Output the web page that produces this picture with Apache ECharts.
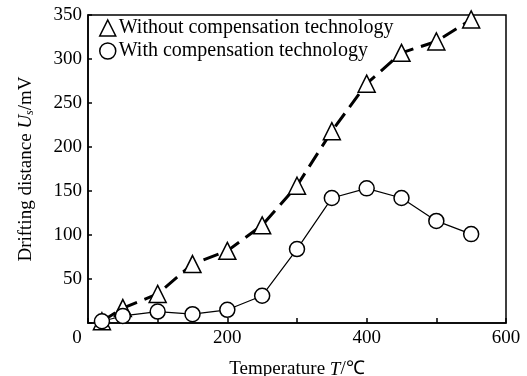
<!DOCTYPE html>
<html><head><meta charset="utf-8">
<script src="https://cdn.jsdelivr.net/npm/echarts@6/dist/echarts.min.js"></script>
<style>html,body{margin:0;padding:0;background:#fff}#c{width:527px;height:376px}</style>
</head><body><div id="c"></div>
<script>
var temperatures = [20, 50, 100, 150, 200, 250, 300, 350, 400, 450, 500, 550];
var withoutComp = [2, 17, 33, 67, 82, 111, 156, 218, 272, 307, 320, 345];
var withComp = [2, 8, 13, 10, 15, 31, 84, 142, 153, 142, 116, 101];
var xTickLabels = [0, 200, 400, 600];
var yTickLabels = [50, 100, 150, 200, 250, 300, 350];
var seriesNames = ['Without compensation technology', 'With compensation technology'];

function pairs(xs, ys) { return xs.map(function (x, i) { return [x, ys[i]]; }); }
var FONT = 'Liberation Serif';
var chart = echarts.init(document.getElementById('c'));
chart.setOption({
  backgroundColor: '#fff',
  animation: false,
  textStyle: { fontFamily: FONT, color: '#000' },
  grid: { left: 88, right: 21, top: 15, bottom: 53, containLabel: false, outerBoundsMode: 'none', show: true, borderColor: '#000', borderWidth: 1.5, backgroundColor: 'transparent' },
  legend: {
    left: 94, top: 13, orient: 'vertical', itemGap: 3, itemWidth: 16, itemHeight: 16,
    textStyle: { fontFamily: FONT, fontSize: 20, color: '#000', padding: [0, 0, 0, -2] },
    data: [
      { name: seriesNames[0], icon: 'triangle', itemStyle: { color: '#fff', borderColor: '#000', borderWidth: 1.5 } },
      { name: seriesNames[1], icon: 'circle', itemStyle: { color: '#fff', borderColor: '#000', borderWidth: 1.5 } }
    ]
  },
  xAxis: {
    type: 'value', min: 0, max: 600, interval: 100,
    name: 'Temperature {i|T}/℃', nameLocation: 'middle', nameGap: 37,
    nameTextStyle: { fontFamily: FONT, fontSize: 19, color: '#000', rich: { i: { fontStyle: 'italic', fontFamily: FONT, fontSize: 19 } } },
    axisLine: { lineStyle: { color: '#000', width: 1.5 } },
    axisTick: { inside: true, length: 5, lineStyle: { color: '#000', width: 1.5 } },
    splitLine: { show: false },
    axisLabel: {
      margin: 6, fontFamily: FONT, fontSize: 19, color: '#000',
      formatter: function (v) {
        if (xTickLabels.indexOf(v) < 0) return '';
        return v === 0 ? '{z|0}' : String(v);
      },
      rich: { z: { padding: [0, 22, 0, 0], fontFamily: FONT, fontSize: 19 } }
    }
  },
  yAxis: {
    type: 'value', min: 0, max: 350, interval: 50,
    name: 'Drifting distance {i|U}{s|s}/mV', nameLocation: 'middle', nameGap: 52,
    nameTextStyle: { fontFamily: FONT, fontSize: 19, color: '#000', rich: { i: { fontStyle: 'italic', fontFamily: FONT, fontSize: 19 }, s: { fontStyle: 'italic', fontFamily: FONT, fontSize: 12, verticalAlign: 'bottom', padding: [8, 0, 0, 0] } } },
    axisLine: { lineStyle: { color: '#000', width: 1.5 } },
    axisTick: { inside: true, length: 4, lineStyle: { color: '#000', width: 1.5 } },
    splitLine: { show: false },
    axisLabel: {
      margin: 6, fontFamily: FONT, fontSize: 19, color: '#000',
      formatter: function (v) { return yTickLabels.indexOf(v) < 0 ? '' : String(v); }
    }
  },
  series: [
    {
      name: seriesNames[0], type: 'line', data: pairs(temperatures, withoutComp),
      symbol: 'triangle', symbolSize: 17, showAllSymbol: true,
      lineStyle: { color: '#000', width: 3, type: [16, 8] },
      itemStyle: { color: '#fff', borderColor: '#000', borderWidth: 1.5 },
      z: 2
    },
    {
      name: seriesNames[1], type: 'line', data: pairs(temperatures, withComp),
      symbol: 'circle', symbolSize: 15, showAllSymbol: true,
      lineStyle: { color: '#000', width: 1.2 },
      itemStyle: { color: '#fff', borderColor: '#000', borderWidth: 1.5 },
      z: 3
    }
  ]
});
</script></body></html>
